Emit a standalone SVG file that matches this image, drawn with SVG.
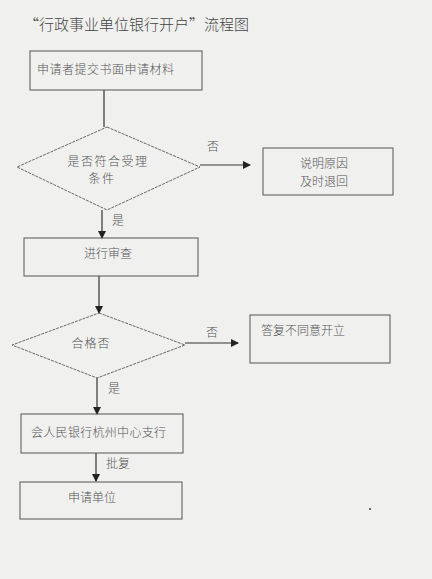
<svg xmlns="http://www.w3.org/2000/svg" width="432" height="579" viewBox="0 0 432 579">
<style>
.bg{fill:#f0f0ef}
.box{fill:none;stroke:#555;stroke-width:1}
.dia{fill:none;stroke:#666;stroke-width:1;stroke-dasharray:3 1}
.ln{stroke:#333;stroke-width:1.2;fill:none}
text{font-family:"Noto Sans CJK SC","Noto Sans",sans-serif;fill:#555;font-size:12px;font-weight:300}
.t{font-size:15px;fill:#444}
.m{text-anchor:middle}
</style>
<defs>
<marker id="ar" markerWidth="8" markerHeight="8" refX="7" refY="4" orient="auto" markerUnits="userSpaceOnUse">
<path d="M0,0 L8,4 L0,8 Z" fill="#222"/>
</marker>
</defs>
<rect class="bg" x="0" y="0" width="432" height="579"/>
<text class="t" x="24" y="30">“行政事业单位银行开户”流程图</text>
<g id="connectors">
<line class="ln" x1="104" y1="90" x2="104" y2="127"/>
<line class="ln" x1="200" y1="165" x2="250" y2="165" marker-end="url(#ar)"/>
<text x="207" y="151">否</text>
<line class="ln" x1="102" y1="210" x2="102" y2="238" marker-end="url(#ar)"/>
<text x="112" y="225">是</text>
<line class="ln" x1="99" y1="276" x2="99" y2="313" marker-end="url(#ar)"/>
<line class="ln" x1="185" y1="343" x2="238" y2="343" marker-end="url(#ar)"/>
<text x="206" y="337">否</text>
<line class="ln" x1="97" y1="378" x2="97" y2="414" marker-end="url(#ar)"/>
<text x="108" y="393">是</text>
<line class="ln" x1="96" y1="453" x2="96" y2="481" marker-end="url(#ar)"/>
<text x="106" y="468">批复</text>
</g>
<g id="n1">
<rect class="box" x="30" y="51" width="172" height="39"/>
<text x="37" y="74" letter-spacing="0.5">申请者提交书面申请材料</text>
</g>
<g id="n2">
<polygon class="dia" points="107,127 200,167 107,210 17,167"/>
<text class="m" x="108" y="166" letter-spacing="1.5">是否符合受理</text>
<text class="m" x="102" y="183" letter-spacing="1.5">条件</text>
</g>
<g id="n3">
<rect class="box" x="263" y="148" width="130" height="47"/>
<text class="m" x="324" y="168">说明原因</text>
<text class="m" x="324" y="186">及时退回</text>
</g>
<g id="n4">
<rect class="box" x="24" y="238" width="174" height="38"/>
<text x="84" y="258">进行审查</text>
</g>
<g id="n5">
<polygon class="dia" points="99,313 185,345 97,378 12,345"/>
<text class="m" x="91" y="348" letter-spacing="1">合格否</text>
</g>
<g id="n6">
<rect class="box" x="250" y="315" width="140" height="48"/>
<text x="261" y="335">答复不同意开立</text>
</g>
<g id="n7">
<rect class="box" x="21" y="414" width="162" height="39"/>
<text x="31" y="437" letter-spacing="0.3">会人民银行杭州中心支行</text>
</g>
<g id="n8">
<rect class="box" x="20" y="482" width="162" height="37"/>
<text x="68" y="502">申请单位</text>
</g>
<circle cx="370" cy="509" r="1" fill="#444"/>
</svg>
